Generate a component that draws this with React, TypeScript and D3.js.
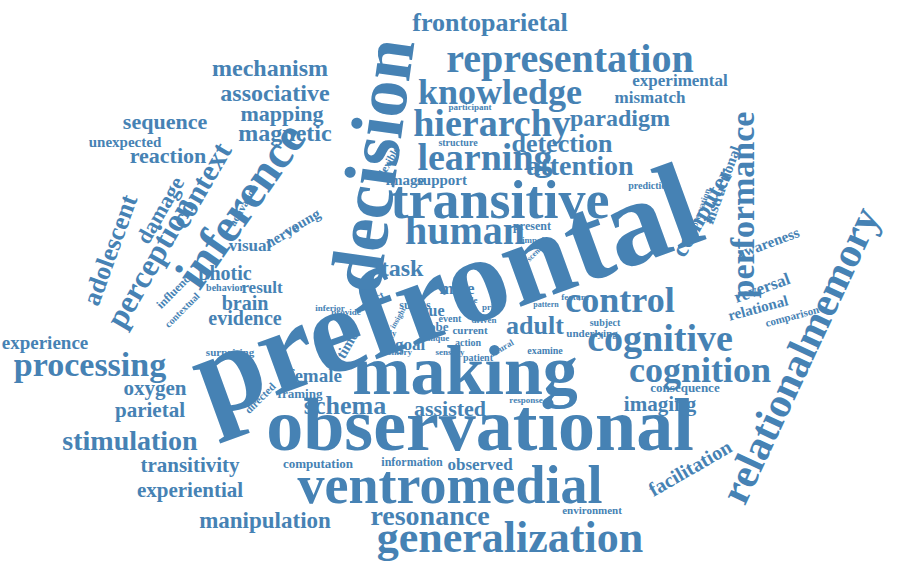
import { useEffect, useRef } from "react";
import * as d3 from "d3";

// words and their weights (font size in px)
const words = [
  "prefrontal", "decision", "observational", "making", "ventromedial", "generalization",
  "transitive", "inference", "relationalmemory", "representation", "knowledge", "hierarchy",
  "learning", "human", "control", "cognitive", "cognition", "performance", "frontoparietal",
  "mechanism", "associative", "mapping", "magnetic", "sequence", "unexpected", "reaction",
  "context", "perception", "damage", "adolescent", "experience", "processing", "oxygen",
  "parietal", "stimulation", "transitivity", "experiential", "manipulation", "resonance",
  "schema", "assisted", "imaging", "consequence", "facilitation", "environment", "observed",
  "information", "computation", "female", "framing", "directed", "evidence", "brain", "photic",
  "visual", "young", "nerve", "task", "adult", "male", "goal", "lobe", "current", "action",
  "time", "result", "attention", "detection", "paradigm", "experimental", "mismatch",
  "computer", "instructional", "awareness", "reversal", "relational", "comparison",
  "underlying", "subject", "image", "support", "structure", "participant", "flexible",
  "activation", "influence", "contextual", "behavior", "surprising", "sulcus", "inferior",
  "provide", "effect", "present", "impair", "prediction", "memory", "sensory", "patient",
  "neural", "examine", "response", "feature", "pattern", "driven", "prior", "study", "role",
  "cue", "event", "unique", "observation", "scenario", "insight",
];
const weights = [
  122, 74, 74, 70, 54, 44,
  54, 48, 42, 40, 36, 38,
  38, 40, 36, 38, 36, 34, 26,
  24, 24, 22, 24, 22, 15, 22,
  30, 32, 22, 26, 19, 34, 21,
  21, 28, 21, 21, 23, 28,
  26, 22, 21, 13, 20, 11, 17,
  12, 13, 19, 13, 11, 20, 20, 20,
  17, 15, 15, 24, 26, 17, 17, 13, 11, 10,
  15, 17, 28, 26, 24, 17, 17,
  24, 15, 15, 17, 15, 11,
  11, 10, 15, 15, 10, 9, 11,
  11, 12, 10, 10, 11, 12, 9,
  9, 11, 12, 9, 10, 9, 9, 10,
  9, 10, 9, 9, 8, 9, 9, 9, 9,
  16, 10, 9, 9, 8, 8,
];
// layout of the cloud: centre x, centre y, rotation (deg)
const posX = [
  445, 372, 480, 465, 450, 510,
  500, 240, 800, 570, 500, 492,
  485, 465, 620, 660, 700, 742, 490,
  270, 275, 282, 285, 165, 125, 168,
  200, 150, 160, 110, 45, 90, 155,
  150, 130, 190, 190, 265, 430,
  345, 450, 660, 685, 690, 592, 480,
  412, 318, 315, 300, 260, 245, 245, 225,
  250, 302, 282, 402, 535, 457, 410, 437, 470, 468,
  347, 262, 580, 562, 620, 680, 650,
  702, 722, 768, 762, 758, 792,
  592, 605, 405, 442, 458, 470, 388,
  243, 175, 182, 225, 230, 415, 330,
  346, 372, 532, 535, 650, 396, 450, 478,
  502, 545, 526, 575, 546, 484, 492, 386, 470,
  433, 450, 436, 700, 538, 398,
];
const posY = [
  290, 165, 425, 370, 485, 537,
  200, 205, 355, 58, 92, 123,
  157, 230, 300, 338, 370, 205, 22,
  68, 93, 113, 133, 121, 142, 155,
  185, 262, 210, 250, 342, 364, 388,
  410, 440, 465, 490, 520, 515,
  405, 408, 404, 387, 468, 510, 464,
  462, 463, 375, 393, 398, 318, 303, 273,
  245, 222, 235, 268, 325, 288, 344, 326, 330, 342,
  345, 287, 165, 143, 118, 80, 97,
  212, 185, 243, 288, 308, 316,
  333, 322, 180, 180, 142, 107, 162,
  205, 290, 310, 287, 352, 305, 308,
  312, 300, 226, 240, 185, 352, 352, 357,
  348, 350, 400, 297, 304, 320, 307, 333, 300,
  310, 318, 338, 210, 250, 318,
];
const rot = [
  -20, -82, 0, 0, 0, 0,
  0, -55, -65, 0, 0, 0,
  0, 0, 0, 0, 0, -90, 0,
  0, 0, 0, 0, 0, 0, 0,
  -60, -60, -60, -70, 0, 0, 0,
  0, 0, 0, 0, 0, 0,
  0, 0, 0, 0, -30, 0, 0,
  0, 0, 0, 0, -45, 0, 0, 0,
  0, -30, -30, 0, 0, 0, 0, 0, 0, 0,
  -60, 0, 0, 0, 0, 0, 0,
  -60, -70, -20, -20, -15, -15,
  0, 0, 0, 0, 0, 0, -60,
  -60, -45, -45, 0, 0, 0, 0,
  0, -30, 0, 0, 0, 0, 0, 0,
  -30, 0, 0, 0, 0, 0, 0, 0, 0,
  0, 0, 0, -70, -45, -60,
];

export default function App() {
  const svgRef = useRef<SVGSVGElement>(null);

  useEffect(() => {
    if (!svgRef.current) return;
    const svg = d3.select(svgRef.current);
    svg.selectAll("*").remove();

    const data = words.map((w, i) => ({ text: w, size: weights[i], x: posX[i], y: posY[i], r: rot[i] }));

    svg.append("g")
      .selectAll("text")
      .data(data)
      .join("text")
      .attr("transform", (d) => `translate(${d.x},${d.y}) rotate(${d.r})`)
      .attr("text-anchor", "middle")
      .attr("dominant-baseline", "central")
      .attr("font-family", "'Liberation Serif', 'DejaVu Serif', serif")
      .attr("font-weight", "bold")
      .attr("font-size", (d) => d.size)
      .attr("fill", "#4682b4")
      .text((d) => d.text);
  }, []);

  return (
    <svg
      ref={svgRef}
      width={900}
      height={564}
      style={{ position: "absolute", left: 0, top: 0, background: "#fff" }}
    />
  );
}
